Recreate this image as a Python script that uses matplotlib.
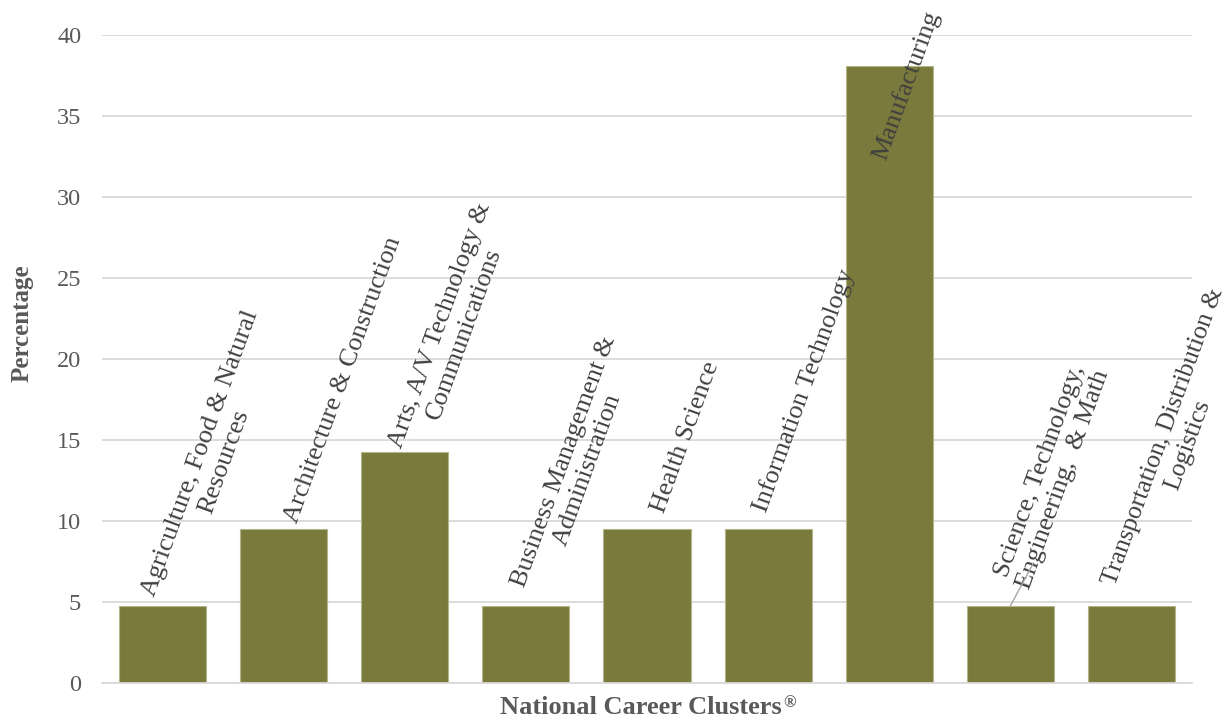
import numpy as np
import matplotlib.pyplot as plt

clusters = ['Agriculture, Food & Natural\nResources',
            'Architecture & Construction',
            'Arts, A/V Technology &\nCommunications',
            'Business Management &\nAdministration',
            'Health Science',
            'Information Technology',
            'Manufacturing',
            'Science, Technology,\nEngineering,  & Math',
            'Transportation, Distribution &\nLogistics']
percentage = [4.76, 9.52, 14.29, 4.76, 9.52, 9.52, 38.10, 4.76, 4.76]

# offset of each rotated label from the top centre of its bar (pixels)
label_dx = [12, 13, 17, 19, 17, -2, -4, 16, 5]
label_dy = [1, 5, -5, 10, 15, 15, -96, 17, 12]
label_size = [19, 19, 19, 19, 19, 19, 19, 19, 18.5]

plt.rcParams['font.family'] = ['Liberation Serif', 'DejaVu Serif']

fig = plt.figure(figsize=(12.27, 7.23), dpi=100)
ax = fig.add_axes([0.0831, 0.0553, 0.8884, 0.8963])

x = np.arange(len(percentage))
ax.bar(x, percentage, width=0.72, color='#7A7A3C', edgecolor='#B5B58C',
       linewidth=0.8, zorder=2)

ax.set_xlim(-0.5, len(percentage) - 0.5)
ax.set_ylim(0, 40)
ax.set_yticks(range(0, 41, 5))
ax.set_xticks([])
ax.yaxis.grid(True, color='#D9D9D9', linewidth=1.3, zorder=0)
for s in ['top', 'right', 'left']:
    ax.spines[s].set_visible(False)
ax.spines['bottom'].set_color('#D9D9D9')
ax.spines['bottom'].set_linewidth(1.3)
ax.tick_params(axis='y', length=0, pad=15, labelsize=17.5, labelcolor='#595959')

ax.set_ylabel('Percentage', fontsize=18, fontweight='bold', color='#595959')
ax.yaxis.set_label_coords(-0.063, 0.556)
xl = ax.set_xlabel('National Career Clusters', fontsize=19, fontweight='bold',
                   color='#595959')
ax.xaxis.set_label_coords(0.4945, -0.02)
ax.annotate('®', xy=(1, 1), xycoords=xl, xytext=(1, 1),
            textcoords='offset pixels', ha='left', va='top', fontsize=12,
            fontweight='bold', color='#595959')

for i, (lab, v) in enumerate(zip(clusters, percentage)):
    ax.annotate(lab, xy=(i, v), xytext=(label_dx[i], label_dy[i]),
                textcoords='offset pixels', rotation=70, rotation_mode='anchor',
                ha='left', va='baseline', multialignment='center',
                fontsize=label_size[i], color='#404040', zorder=3,
                annotation_clip=False)

# leader line for the moved Science label
ax.plot([7, 7.19], [percentage[7], 7.4], color='#A6A6A6', linewidth=1, zorder=3)

fig.savefig('out.png', dpi=100)
